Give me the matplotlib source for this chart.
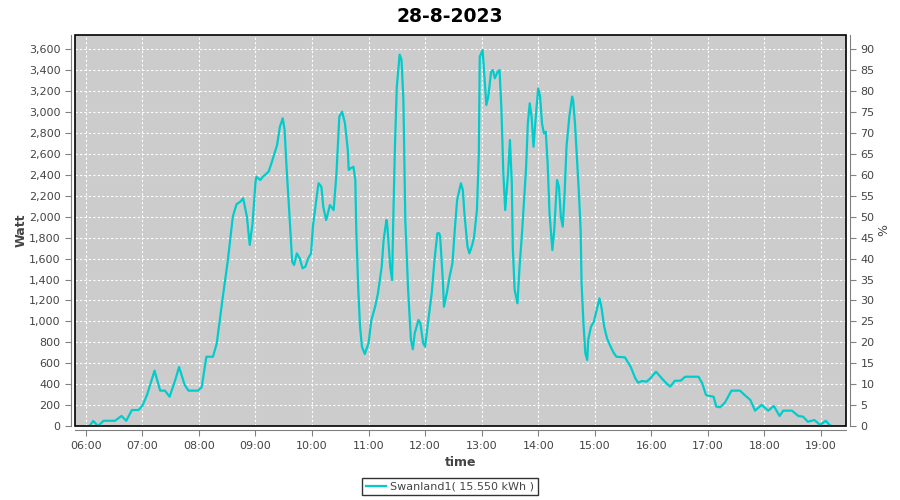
import pandas as pd
import matplotlib
matplotlib.use('Agg')
import matplotlib.pyplot as plt
import matplotlib.dates as mdates
from matplotlib.patches import Rectangle
from matplotlib.ticker import FuncFormatter, MultipleLocator

# readings of the day (time, watt)
times = ["06:04", "06:08", "06:13", "06:19", "06:31", "06:38", "06:43", "06:49", "06:56", "07:00",
         "07:05", "07:13", "07:19", "07:24", "07:29", "07:35", "07:39", "07:45", "07:49", "07:59",
         "08:03", "08:08", "08:15", "08:19", "08:25", "08:31", "08:36", "08:40", "08:44", "08:47",
         "08:51", "08:54", "08:57", "09:00", "09:01", "09:05", "09:08", "09:14", "09:17", "09:23",
         "09:26", "09:29", "09:31", "09:33", "09:36", "09:39", "09:41", "09:44", "09:47", "09:50",
         "09:53", "09:56", "09:59", "10:01", "10:05", "10:07", "10:10", "10:12", "10:15", "10:16",
         "10:19", "10:23", "10:26", "10:29", "10:32", "10:35", "10:38", "10:39", "10:41", "10:44",
         "10:46", "10:47", "10:49", "10:51", "10:53", "10:56", "11:00", "11:03", "11:07", "11:10",
         "11:14", "11:16", "11:19", "11:20", "11:23", "11:25", "11:26", "11:28", "11:30", "11:33",
         "11:35", "11:37", "11:39", "11:42", "11:45", "11:47", "11:49", "11:53", "11:55", "11:58",
         "12:00", "12:03", "12:07", "12:10", "12:13", "12:15", "12:16", "12:19", "12:20", "12:23",
         "12:26", "12:29", "12:32", "12:34", "12:38", "12:40", "12:42", "12:45", "12:47", "12:50",
         "12:52", "12:55", "12:57", "12:58", "13:01", "13:03", "13:05", "13:07", "13:10", "13:12",
         "13:14", "13:17", "13:19", "13:21", "13:23", "13:25", "13:28", "13:30", "13:32", "13:33",
         "13:35", "13:38", "13:40", "13:43", "13:47", "13:49", "13:51", "13:53", "13:55", "13:58",
         "14:00", "14:02", "14:04", "14:06", "14:08", "14:10", "14:12", "14:15", "14:17", "14:20",
         "14:22", "14:24", "14:26", "14:28", "14:30", "14:33", "14:36", "14:37", "14:39", "14:41",
         "14:43", "14:45", "14:46", "14:48", "14:50", "14:52", "14:53", "14:56", "14:59", "15:02",
         "15:05", "15:07", "15:10", "15:13", "15:16", "15:20", "15:23", "15:32", "15:38", "15:43",
         "15:46", "15:50", "15:55", "15:59", "16:05", "16:11", "16:16", "16:20", "16:25", "16:31",
         "16:36", "16:50", "16:54", "16:58", "17:02", "17:06", "17:09", "17:13", "17:18", "17:25",
         "17:34", "17:39", "17:45", "17:50", "17:57", "18:04", "18:10", "18:16", "18:20", "18:29",
         "18:36", "18:41", "18:46", "18:53", "18:59", "19:05", "19:09", "19:11"]

watts = [0, 48, 0, 50, 50, 96, 50, 153, 153, 191,
         296, 529, 338, 338, 280, 440, 564, 392, 338, 338,
         370, 662, 662, 790, 1204, 1600, 2000, 2120, 2144, 2176,
         2000, 1730, 1940, 2320, 2383, 2351, 2383, 2431, 2511, 2686,
         2861, 2941, 2829, 2478, 2033, 1570, 1539, 1650, 1603, 1507,
         1523, 1603, 1650, 1905, 2192, 2320, 2287, 2096, 1969, 2000,
         2112, 2064, 2415, 2956, 3004, 2893, 2638, 2447, 2463, 2478,
         2351, 1873, 1331, 949, 758, 688, 790, 1013, 1140, 1268,
         1523, 1778, 1969, 1905, 1523, 1395, 1873, 2669, 3243, 3550,
         3500, 3116, 1969, 1300, 822, 733, 886, 1013, 981, 790,
         758, 981, 1268, 1587, 1842, 1842, 1809, 1364, 1140, 1268,
         1427, 1555, 1937, 2160, 2320, 2256, 2000, 1714, 1650, 1730,
         1809, 2064, 2606, 3529, 3594, 3338, 3068, 3148, 3386, 3402,
         3323, 3386, 3402, 3020, 2415, 2064, 2415, 2733, 2320, 1714,
         1300, 1173, 1491, 1873, 2447, 2893, 3084, 2956, 2669, 3020,
         3227, 3148, 2893, 2797, 2813, 2511, 2033, 1682, 1873, 2351,
         2287, 2000, 1905, 2224, 2669, 2956, 3148, 3116, 2893, 2574,
         2256, 1873, 1364, 981, 695, 631, 822, 949, 997, 1109,
         1220, 1140, 949, 838, 774, 700, 662, 656, 567, 456,
         414, 430, 424, 456, 519, 456, 408, 376, 433, 433,
         471, 471, 408, 296, 287, 280, 185, 179, 223, 338,
         338, 296, 249, 147, 201, 147, 191, 96, 147, 147,
         96, 89, 41, 57, 10, 50, 10, 0]

day = "2023-08-28"
series_name = "Swanland1( 15.550 kWh )"

t = pd.to_datetime([day + " " + s for s in times])

line_color = '#00cccc'
axis_gray = '#808080'
text_gray = '#444444'

fig = plt.figure(figsize=(9, 5), dpi=100)
ax = fig.add_axes([0.0833, 0.148, 0.8567, 0.782])
ax.set_facecolor('#cccccc')

ax.plot(t, watts, color=line_color, linewidth=1.6, zorder=3, label=series_name)

ax.set_xlim(pd.Timestamp(day + " 05:48:36"), pd.Timestamp(day + " 19:26:30"))
ax.set_ylim(0, 3737)
ax.yaxis.set_major_locator(MultipleLocator(200))
ax.yaxis.set_major_formatter(FuncFormatter(lambda v, p: f"{int(v):,}"))
ax.xaxis.set_major_locator(mdates.HourLocator())
ax.xaxis.set_major_formatter(mdates.DateFormatter('%H:%M'))

ax.grid(True, color='white', linestyle=(0, (2, 2)), linewidth=0.8)
ax.set_axisbelow(True)

# right axis in percent
ax2 = ax.twinx()
ax2.set_ylim(0, 3737 / 40)
ax2.yaxis.set_major_locator(MultipleLocator(5))

for a in (ax, ax2):
    for s in a.spines.values():
        s.set_visible(False)
    a.tick_params(colors=axis_gray, labelcolor=text_gray, labelsize=8, length=4, width=0.8)

for side, a in (('left', ax), ('bottom', ax), ('right', ax2)):
    sp = a.spines[side]
    sp.set_visible(True)
    sp.set_color(axis_gray)
    sp.set_position(('outward', 3))

ax.add_patch(Rectangle((0, 0), 1, 1, transform=ax.transAxes, fill=False,
                       edgecolor='black', linewidth=1.2, zorder=10, clip_on=False))

ax.set_xlabel('time', fontsize=9, fontweight='bold', color=text_gray, labelpad=4)
ax.set_ylabel('Watt', fontsize=9, fontweight='bold', color=text_gray, labelpad=1)
ax2.set_ylabel('%', fontsize=9, color=text_gray, labelpad=2)

fig.suptitle('28-8-2023', fontsize=13.5, fontweight='bold', y=0.985)

leg = fig.legend(loc='center', bbox_to_anchor=(0.5, 0.027), fontsize=8, frameon=True,
                 fancybox=False, handlelength=1.8, borderpad=0.35, handletextpad=0.4)
leg.get_frame().set_edgecolor('black')
leg.get_frame().set_linewidth(1)
for txt in leg.get_texts():
    txt.set_color(text_gray)

fig.savefig('out.png', dpi=100)
